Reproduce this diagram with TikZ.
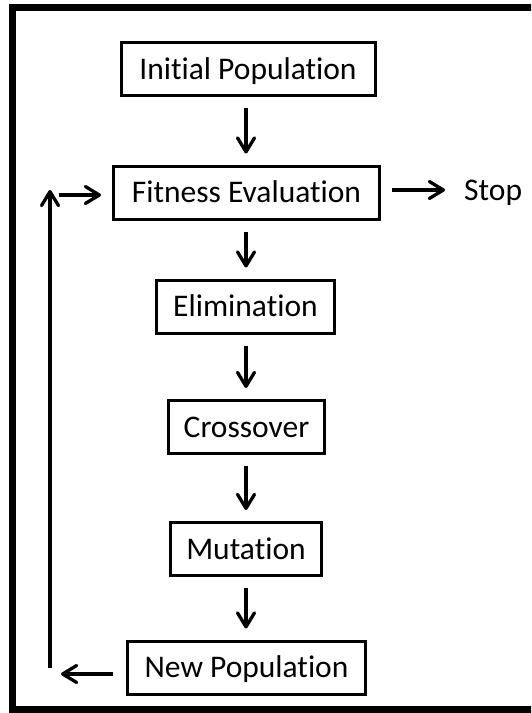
\documentclass[tikz,border=0pt]{standalone}
\usepackage{fontspec}
\setmainfont{Carlito}[Ligatures=NoCommon]
\usetikzlibrary{arrows.meta}
\begin{document}
\begin{tikzpicture}[x=1pt,y=-1pt,
  stage/.style={draw=black, line width=3pt, inner sep=0pt,
    text height=20pt, text depth=0pt, minimum height=53pt,
    font=\fontsize{31.5}{36}\selectfont},
  label/.style={inner sep=0pt, text height=20pt, text depth=0pt,
    font=\fontsize{31.5}{36}\selectfont},
  flow/.style={line width=3.3pt,
    -{Straight Barb[length=14pt,width=17pt,round]},
    shorten <=11pt, shorten >=11pt}]

  % page area and outer frame (open on the right)
  \clip (0,0) rectangle (531,713);
  \draw[line width=7pt] (12,7) rectangle (570,709);

  % stages of the algorithm
  \node[stage, minimum width=254pt] (init)   at (248,69)    {Initial Population};
  \node[stage, minimum width=266pt] (fit)    at (246.5,192.5) {Fitness Evaluation};
  \node[stage, minimum width=178pt] (elim)   at (245.5,306.5) {Elimination};
  \node[stage, minimum width=156pt] (cross)  at (246.5,427)  {Crossover};
  \node[stage, minimum width=151pt] (mut)    at (246,549)    {Mutation};
  \node[stage, minimum width=238pt] (newpop) at (246.5,667.5) {New Population};
  \node[label, anchor=west] (stop) at (464,190) {Stop};

  % loop-back path
  \coordinate (loopin)  at (59,195);
  \coordinate (looptop) at (50,190);
  \coordinate (loopbot) at (50,668);
  \coordinate (loopout) at (61,674);

  % main flow
  \draw[flow] (init.south -| mut)  -- (fit.north -| mut);
  \draw[flow] (fit.south -| mut)   -- (elim.north -| mut);
  \draw[flow] (elim.south -| mut)  -- (cross.north -| mut);
  \draw[flow] (cross.south -| mut) -- (mut.north);
  \draw[flow] (mut.south)          -- (newpop.north -| mut);
  \draw[flow, shorten >=19pt] (fit.east |- stop) -- (stop.west);

  % feedback to the evaluation step
  \draw[flow, shorten <=13pt, shorten >=0pt] (newpop.west |- loopout) -- (loopout);
  \draw[flow, shorten <=0pt, shorten >=0pt] (loopbot) -- (looptop);
  \draw[flow, shorten <=0pt] (loopin) -- (fit.west |- loopin);
\end{tikzpicture}
\end{document}
